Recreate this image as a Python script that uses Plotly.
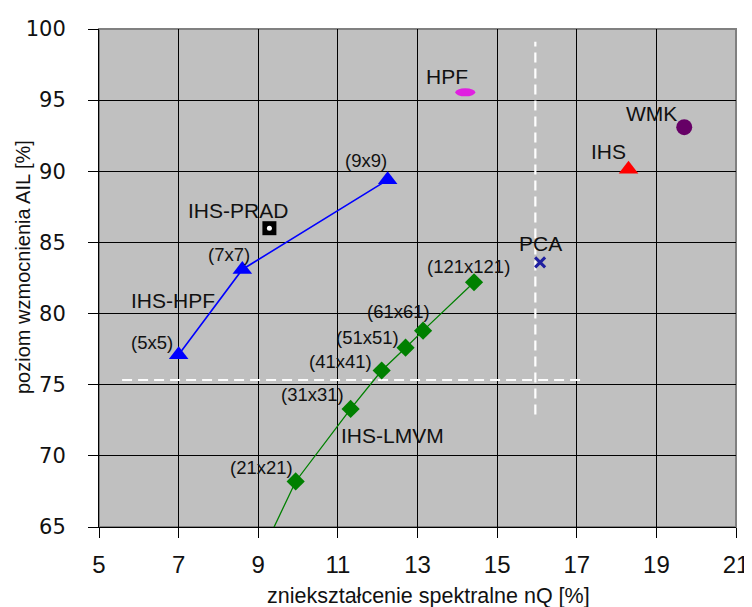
import plotly.graph_objects as go

# ---- data ----
hpf_win_x = [7.0, 8.6, 12.25]
hpf_win_y = [77.1, 83.1, 89.4]
hpf_win_labels = ["(5x5)", "(7x7)", "(9x9)"]

lmvm_x = [8.55, 9.94, 11.32, 12.1, 12.7, 13.14, 14.42]
lmvm_y = [60.0, 68.2, 73.3, 76.0, 77.6, 78.8, 82.2]
lmvm_labels = ["", "(21x21)", "(31x31)", "(41x41)", "(51x51)", "(61x61)", "(121x121)"]

prad_x, prad_y = [9.28], [86.0]
hpf_x, hpf_y = [14.2], [95.55]
wmk_x, wmk_y = [19.7], [93.1]
ihs_x, ihs_y = [18.3], [90.15]
pca_x, pca_y = [16.08], [83.6]

ref_h_y = 75.33
ref_h_x = [5.58, 17.2]
ref_v_x = 15.96
ref_v_y = [72.9, 99.1]

x_ticks = [5, 7, 9, 11, 13, 15, 17, 19, 21]
y_ticks = [65, 70, 75, 80, 85, 90, 95, 100]

# ---- label offsets (pixels) ----
hpf_win_off = [(-27, 12), (-13, 15), (-22, 19)]
lmvm_off = [(0, 0), (-34, 14), (-38, 14), (-41, 9), (-38, 10), (-25, 19), (-6, 16)]

FONT = "Liberation Sans, Arial, sans-serif"
FONT_W = "DejaVu Sans, Verdana, sans-serif"
fig = go.Figure()

# reference dashed lines
fig.add_trace(go.Scatter(x=ref_h_x, y=[ref_h_y, ref_h_y], mode="lines",
                         line=dict(color="white", width=2.2, dash="10px,6px"),
                         hoverinfo="skip", showlegend=False))
fig.add_trace(go.Scatter(x=[ref_v_x, ref_v_x], y=ref_v_y, mode="lines",
                         line=dict(color="white", width=2.2, dash="10px,6px"),
                         hoverinfo="skip", showlegend=False))

# IHS-HPF
fig.add_trace(go.Scatter(x=hpf_win_x, y=hpf_win_y, mode="lines+markers",
                         line=dict(color="#0000FF", width=1.6),
                         marker=dict(symbol="triangle-up", size=17, color="#0000FF"),
                         showlegend=False, name="IHS-HPF"))
# IHS-LMVM
fig.add_trace(go.Scatter(x=lmvm_x, y=lmvm_y, mode="lines+markers",
                         line=dict(color="#008000", width=1.3),
                         marker=dict(symbol="diamond", size=14, color="#008000"),
                         showlegend=False, name="IHS-LMVM"))
# IHS-PRAD
fig.add_trace(go.Scatter(x=prad_x, y=prad_y, mode="markers",
                         marker=dict(symbol="square", size=14, color="black"),
                         showlegend=False, name="IHS-PRAD"))
fig.add_trace(go.Scatter(x=prad_x, y=prad_y, mode="markers",
                         marker=dict(symbol="circle", size=5, color="white"),
                         showlegend=False, hoverinfo="skip"))
# WMK
fig.add_trace(go.Scatter(x=wmk_x, y=wmk_y, mode="markers",
                         marker=dict(symbol="circle", size=16, color="#660066"),
                         showlegend=False, name="WMK"))
# IHS
fig.add_trace(go.Scatter(x=ihs_x, y=ihs_y, mode="markers",
                         marker=dict(symbol="triangle-up", size=17, color="#FF0000"),
                         showlegend=False, name="IHS"))
# PCA
fig.add_trace(go.Scatter(x=pca_x, y=pca_y, mode="markers",
                         marker=dict(symbol="x-thin", size=10, color="#1F1FA0",
                                     line=dict(color="#1F1FA0", width=3)),
                         showlegend=False, name="PCA"))
# HPF (ellipse)
fig.add_trace(go.Scatter(x=hpf_x, y=hpf_y, mode="markers",
                         marker=dict(size=1, color="#E020E0", opacity=0),
                         showlegend=False, name="HPF"))
fig.add_shape(type="circle", xref="x", yref="y", xsizemode="pixel", ysizemode="pixel",
              xanchor=hpf_x[0], yanchor=hpf_y[0], x0=-10, x1=10, y0=-4, y1=4,
              fillcolor="#E020E0", line=dict(color="#E020E0", width=0))

ann = []
def lab(x, y, t, dx, dy, size=18.5):
    ann.append(dict(x=x, y=y, text=t, showarrow=False, xshift=dx, yshift=dy,
                    font=dict(family=FONT, size=size, color="#111111")))

for x, y, t, (dx, dy) in zip(hpf_win_x, hpf_win_y, hpf_win_labels, hpf_win_off):
    lab(x, y, t, dx, dy)
for x, y, t, (dx, dy) in zip(lmvm_x, lmvm_y, lmvm_labels, lmvm_off):
    if t:
        lab(x, y, t, dx, dy)

big = 21
lab(hpf_win_x[0], hpf_win_y[0], "IHS-HPF", -6, 54, big)
lab(lmvm_x[2], lmvm_y[2], "IHS-LMVM", 42, -27, big)
lab(prad_x[0], prad_y[0], "IHS-PRAD", -31, 18, big)
lab(hpf_x[0], hpf_y[0], "HPF", -18, 16, big)
lab(wmk_x[0], wmk_y[0], "WMK", -33, 14, big)
lab(ihs_x[0], ihs_y[0], "IHS", -20, 18, big)
lab(pca_x[0], pca_y[0], "PCA", 0, 19, big)

# axis titles
ann.append(dict(x=0.5, y=0, xref="paper", yref="paper", text="zniekształcenie spektralne nQ [%]",
                showarrow=False, yshift=-69, xshift=11, yanchor="middle",
                font=dict(family=FONT, size=21.5, color="#111111")))
ann.append(dict(x=0, y=0.5, xref="paper", yref="paper", text="poziom wzmocnienia AIL [%]",
                showarrow=False, xshift=-76, yshift=11, textangle=-90, xanchor="center",
                yanchor="middle", font=dict(family=FONT, size=20, color="#111111")))

# page body adds an 8px offset; margins compensate so the plot area lands at 99..736 x 29..527
fig.update_layout(
    width=752, height=607,
    margin=dict(l=91, r=24, t=21, b=88),
    paper_bgcolor="white", plot_bgcolor="#C0C0C0",
    annotations=ann,
    font=dict(family=FONT, color="#111111"),
)
fig.add_shape(type="rect", xref="paper", yref="paper", x0=0, x1=1, y0=0, y1=1,
              line=dict(color="#808080", width=2), layer="below")
fig.update_xaxes(range=[5, 21], tickvals=x_ticks, showgrid=True, gridcolor="black", gridwidth=1,
                 zeroline=False, showline=True, linecolor="black", linewidth=1,
                 ticks="outside", ticklen=10, tickcolor="black", automargin=False,
                 tickfont=dict(family=FONT, size=24, color="#111111"), ticklabelstandoff=6)
fig.update_yaxes(range=[65, 100], tickvals=y_ticks, showgrid=True, gridcolor="black", gridwidth=1,
                 zeroline=False, showline=True, linecolor="black", linewidth=1,
                 ticks="outside", ticklen=10, tickcolor="black", automargin=False,
                 tickfont=dict(family=FONT_W, size=21, color="#111111"), ticklabelstandoff=18)

fig.write_html("out.html")
